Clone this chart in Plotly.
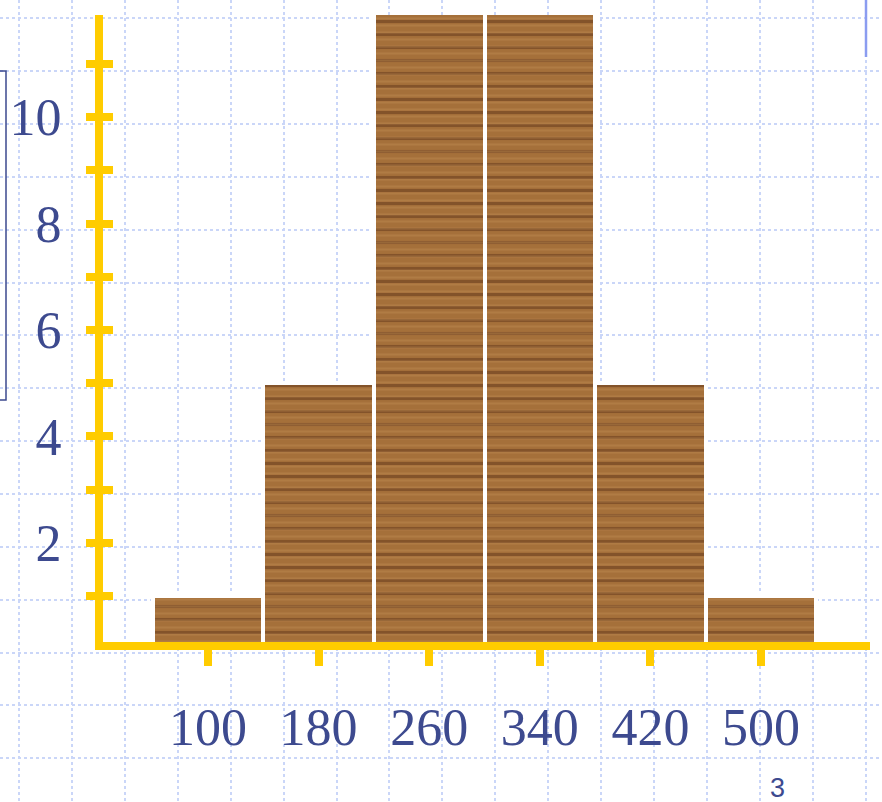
import plotly.graph_objects as go

# ---- data ----
bins = [100, 180, 260, 340, 420, 500]
counts = [1, 5, 12, 12, 5, 1]
x_tick_labels = ["100", "180", "260", "340", "420", "500"]
y_tick_vals = [1, 2, 3, 4, 5, 6, 7, 8, 9, 10, 11]
y_tick_labels = ["", "2", "", "4", "", "6", "", "8", "", "10", ""]
slide_number = "3"

W, H = 882, 802
GOLD = "#FFCC00"
INK = "#3d4a8f"
GRID = "#cad6f8"

fig = go.Figure()

# background "slide paper" subplot (pixel coordinates)
fig.add_trace(go.Scatter(x=[], y=[], xaxis="x", yaxis="y", showlegend=False, hoverinfo="skip"))

# histogram bars: wood-like look from two overlaid stripe patterns
fig.add_trace(go.Bar(
    x=bins, y=counts, width=80, xaxis="x2", yaxis="y2",
    marker=dict(
        color="#a26d37",
        line=dict(color="white", width=4),
        pattern=dict(shape="-", fgcolor="#62361a", bgcolor="#a5703a", size=13, solidity=0.24),
    ),
    cliponaxis=False, showlegend=False, hoverinfo="skip",
))
fig.add_trace(go.Bar(
    x=bins, y=counts, width=80, xaxis="x2", yaxis="y2",
    marker=dict(
        color="rgba(0,0,0,0)",
        line=dict(color="white", width=4),
        pattern=dict(shape="-", fgcolor="rgba(200,150,92,0.6)", bgcolor="rgba(0,0,0,0)",
                     size=7, solidity=0.3),
    ),
    cliponaxis=False, showlegend=False, hoverinfo="skip",
))
# overlay axis for inside half of y ticks
fig.add_trace(go.Scatter(x=[], y=[], xaxis="x2", yaxis="y3", showlegend=False, hoverinfo="skip"))

gx = [18.7 + 52.97 * k for k in range(17)]
gy = [18.3 + 52.86 * k for k in range(16)]

tickfont = dict(family="Liberation Serif", size=52, color=INK)

fig.update_layout(
    width=W, height=H,
    margin=dict(l=0, r=0, t=0, b=0, pad=0),
    paper_bgcolor="white", plot_bgcolor="rgba(0,0,0,0)",
    showlegend=False,
    bargap=0, barmode="overlay",
    xaxis=dict(domain=[0, 1], range=[0, W], tickvals=gx, showticklabels=False, ticks="",
               showgrid=True, gridcolor=GRID, gridwidth=1.5, griddash="dot",
               zeroline=False, showline=False, fixedrange=True),
    yaxis=dict(domain=[0, 1], range=[H, 0], tickvals=gy, showticklabels=False, ticks="",
               showgrid=True, gridcolor=GRID, gridwidth=1.5, griddash="dot",
               zeroline=False, showline=False, fixedrange=True),
    xaxis2=dict(domain=[103 / W, 870 / W], anchor="y2", range=[24.05, 578.8],
                tickvals=bins, ticktext=x_tick_labels, tickfont=tickfont,
                ticks="outside", ticklen=16, tickwidth=8, tickcolor=GOLD,
                ticklabelstandoff=17,
                showline=True, linecolor=GOLD, linewidth=8,
                showgrid=False, zeroline=False),
    yaxis2=dict(domain=[(H - 642) / H, (H - 15) / H], anchor="x2", range=[0.135, 11.92],
                tickvals=y_tick_vals, ticktext=y_tick_labels, tickfont=tickfont,
                ticks="outside", ticklen=9, tickwidth=8, tickcolor=GOLD,
                ticklabelstandoff=14,
                showline=True, linecolor=GOLD, linewidth=8,
                showgrid=False, zeroline=False),
    yaxis3=dict(overlaying="y2", anchor="x2", range=[0.135, 11.92],
                tickvals=y_tick_vals, showticklabels=False,
                ticks="inside", ticklen=10, tickwidth=8, tickcolor=GOLD,
                showline=False, showgrid=False, zeroline=False),
    shapes=[
        dict(type="path", xref="x", yref="y", path="M 0 71 L 6 71 L 6 400 L 0 400",
             line=dict(color=INK, width=1.5), layer="above"),
        dict(type="line", xref="x", yref="y", x0=866, x1=866, y0=0, y1=57,
             line=dict(color="#8b9cf0", width=2.5), layer="above"),
    ],
    annotations=[
        dict(text=slide_number, xref="x", yref="y", x=777, y=788, showarrow=False,
             font=dict(family="Liberation Sans", size=27, color=INK)),
    ],
)

fig.write_html("out.html", config={"displayModeBar": False},
               post_script="document.body.style.margin='0';")
